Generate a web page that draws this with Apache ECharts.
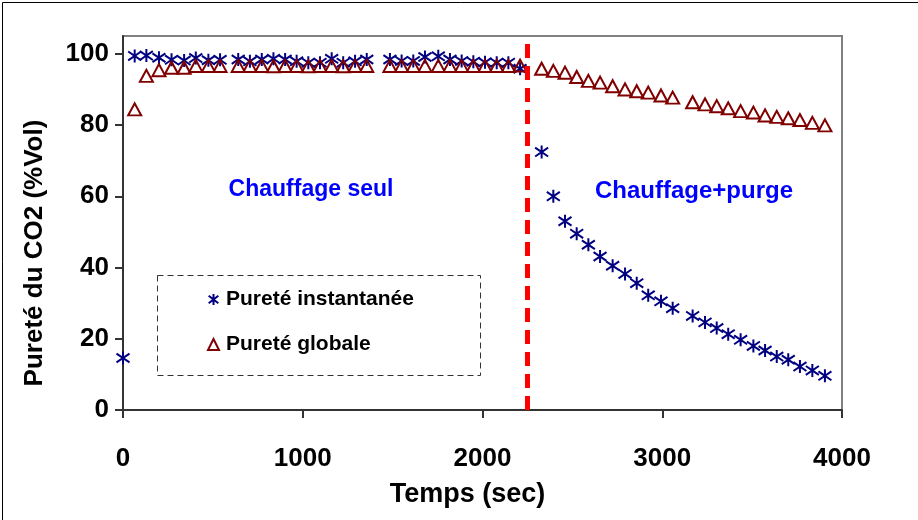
<!DOCTYPE html>
<html>
<head>
<meta charset="utf-8">
<script src="https://cdn.jsdelivr.net/npm/echarts@6/dist/echarts.min.js"></script>
<style>
html,body{margin:0;padding:0;background:#fff;}
#c{width:918px;height:520px;}
</style>
</head>
<body>
<div id="c"></div>
<script>
// ---- data ----
var timeInst = [0, 65, 130, 200, 270, 340, 405, 475, 540,
  641, 706, 772, 837, 902, 966, 1031, 1096, 1161, 1225, 1291, 1356,
  1485, 1550, 1615, 1680, 1754, 1819, 1884, 1949, 2014, 2079, 2144, 2209,
  2329, 2394, 2459, 2524, 2589, 2654, 2724, 2793, 2858, 2922, 2993, 3058,
  3169, 3238, 3303, 3367, 3436, 3507, 3572, 3637, 3701, 3766, 3835, 3905];
var valInst = [14.6, 99.4, 99.5, 98.9, 98.3, 98.1, 98.8, 98.2, 98.3,
  98.4, 97.9, 98.4, 98.6, 98.4, 97.9, 97.5, 97.5, 98.6, 97.5, 97.9, 98.4,
  98.4, 98.0, 98.0, 99.1, 99.3, 98.4, 98.0, 97.8, 97.6, 97.5, 97.5, 95.8,
  72.4, 60.0, 53.0, 49.5, 46.4, 43.1, 40.5, 38.2, 35.6, 32.2, 30.5, 28.6,
  26.4, 24.6, 23.0, 21.3, 19.7, 18.0, 16.7, 15.0, 14.1, 12.2, 11.1, 9.6];
var timeGlob = [65, 130, 200, 270, 340, 405, 475, 540,
  641, 706, 772, 837, 902, 966, 1031, 1096, 1161, 1225, 1291, 1356,
  1485, 1550, 1615, 1680, 1754, 1819, 1884, 1949, 2014, 2079, 2144, 2209,
  2329, 2394, 2459, 2524, 2589, 2654, 2724, 2793, 2858, 2922, 2993, 3058,
  3169, 3238, 3303, 3367, 3436, 3507, 3572, 3637, 3701, 3766, 3835, 3905];
var valGlob = [84.4, 93.8, 95.4, 96.1, 96.1, 96.6, 96.6, 96.6,
  96.6, 96.6, 96.6, 96.5, 96.6, 96.6, 96.5, 96.6, 96.6, 96.5, 96.6, 96.6,
  96.6, 96.6, 96.6, 96.6, 96.6, 96.6, 96.6, 96.6, 96.6, 96.6, 96.6, 96.7,
  95.8, 95.2, 94.7, 93.5, 92.4, 91.9, 90.9, 90.0, 89.5, 89.1, 88.3, 87.7,
  86.4, 85.8, 85.3, 84.7, 83.9, 83.5, 82.7, 82.3, 81.9, 81.4, 80.6, 79.9];
var xTicks = [0, 1000, 2000, 3000, 4000];
var yTicks = [0, 20, 40, 60, 80, 100];
var switchTime = 2250;
var seriesNames = ['Pureté instantanée', 'Pureté globale'];
var phaseLabels = ['Chauffage seul', 'Chauffage+purge'];
var xName = 'Temps (sec)';
var yName = 'Pureté du CO2 (%Vol)';

var starPath = 'path://M0.6,1.6L9.4,8.4M9.4,1.6L0.6,8.4M5,0L5,10';
var FONT = '"Liberation Sans", Arial, sans-serif';

function pairs(t, v) { return t.map(function (x, i) { return [x, v[i]]; }); }

var chart = echarts.init(document.getElementById('c'), null, {renderer: 'canvas'});
chart.setOption({
  animation: false,
  backgroundColor: '#fff',
  textStyle: {fontFamily: FONT},
  grid: {left: 123, right: 76, top: 36, bottom: 110, show: true,
    borderColor: '#808080', borderWidth: 2, backgroundColor: '#fff'},
  xAxis: {
    type: 'value', min: 0, max: 4000, interval: 1000,
    name: xName, nameLocation: 'middle', nameGap: 71,
    nameTextStyle: {fontFamily: FONT, fontWeight: 'bold', fontSize: 27, color: '#000', padding: [0, 30, 0, 0]},
    axisLine: {show: true, onZero: false, lineStyle: {color: '#333', width: 2}},
    axisTick: {show: true, inside: false, length: 8, customValues: xTicks, lineStyle: {color: '#333', width: 2}},
    axisLabel: {fontFamily: FONT, fontWeight: 'bold', fontSize: 26, color: '#000', margin: 36,
      customValues: xTicks, formatter: function (v) { return String(v); }},
    splitLine: {show: false}
  },
  yAxis: {
    type: 'value', min: 0, max: 105,
    name: yName, nameLocation: 'middle', nameGap: 75, nameRotate: 90,
    nameTextStyle: {fontFamily: FONT, fontWeight: 'bold', fontSize: 26, color: '#000', padding: [0, 60, 0, 0]},
    axisLine: {show: true, onZero: false, lineStyle: {color: '#333', width: 2}},
    axisTick: {show: true, inside: false, length: 8, customValues: yTicks, lineStyle: {color: '#333', width: 2}},
    axisLabel: {fontFamily: FONT, fontWeight: 'bold', fontSize: 26, color: '#000', margin: 14, customValues: yTicks},
    splitLine: {show: false}
  },
  legend: {
    orient: 'vertical', left: 202, top: 284, itemGap: 24,
    itemWidth: 11, itemHeight: 11,
    textStyle: {fontFamily: FONT, fontWeight: 'bold', fontSize: 21, color: '#000', padding: [0, 0, 0, 2]},
    data: [
      {name: seriesNames[0], icon: starPath, itemStyle: {color: 'rgba(0,0,0,0)', borderColor: '#000080', borderWidth: 2}},
      {name: seriesNames[1], icon: 'triangle', itemStyle: {color: 'rgba(0,0,0,0)', borderColor: '#800000', borderWidth: 2}}
    ]
  },
  graphic: [
    {type: 'rect', left: 0, top: 0, z: 100, silent: true,
      shape: {x: 0.5, y: 0.5, width: 917, height: 519},
      style: {fill: 'none', stroke: '#000', lineWidth: 1}},
    {type: 'rect', z: 5, silent: true,
      shape: {x: 157.5, y: 275.5, width: 323, height: 100},
      style: {fill: 'none', stroke: '#333', lineWidth: 1, lineDash: [6, 4]}},
    {type: 'text', z: 10, x: 311, y: 190,
      style: {text: phaseLabels[0], fill: '#0000FF', font: 'bold 23px ' + FONT, textAlign: 'center', textVerticalAlign: 'middle'}},
    {type: 'text', z: 10, x: 694, y: 191,
      style: {text: phaseLabels[1], fill: '#0000FF', font: 'bold 24px ' + FONT, textAlign: 'center', textVerticalAlign: 'middle'}}
  ],
  series: [
    {
      name: seriesNames[0], type: 'scatter', z: 3,
      symbol: starPath, symbolSize: 13,
      itemStyle: {color: 'rgba(0,0,0,0)', borderColor: '#000080', borderWidth: 2, opacity: 1},
      data: pairs(timeInst, valInst),
      markLine: {
        silent: true, symbol: ['none', 'none'], label: {show: false},
        lineStyle: {color: '#FF0000', width: 5, type: [14, 8]},
        data: [{xAxis: switchTime}]
      }
    },
    {
      name: seriesNames[1], type: 'scatter', z: 4,
      symbol: 'triangle', symbolSize: [13, 12],
      itemStyle: {color: 'rgba(0,0,0,0)', borderColor: '#800000', borderWidth: 2, opacity: 1},
      data: pairs(timeGlob, valGlob)
    }
  ]
});
</script>
</body>
</html>
